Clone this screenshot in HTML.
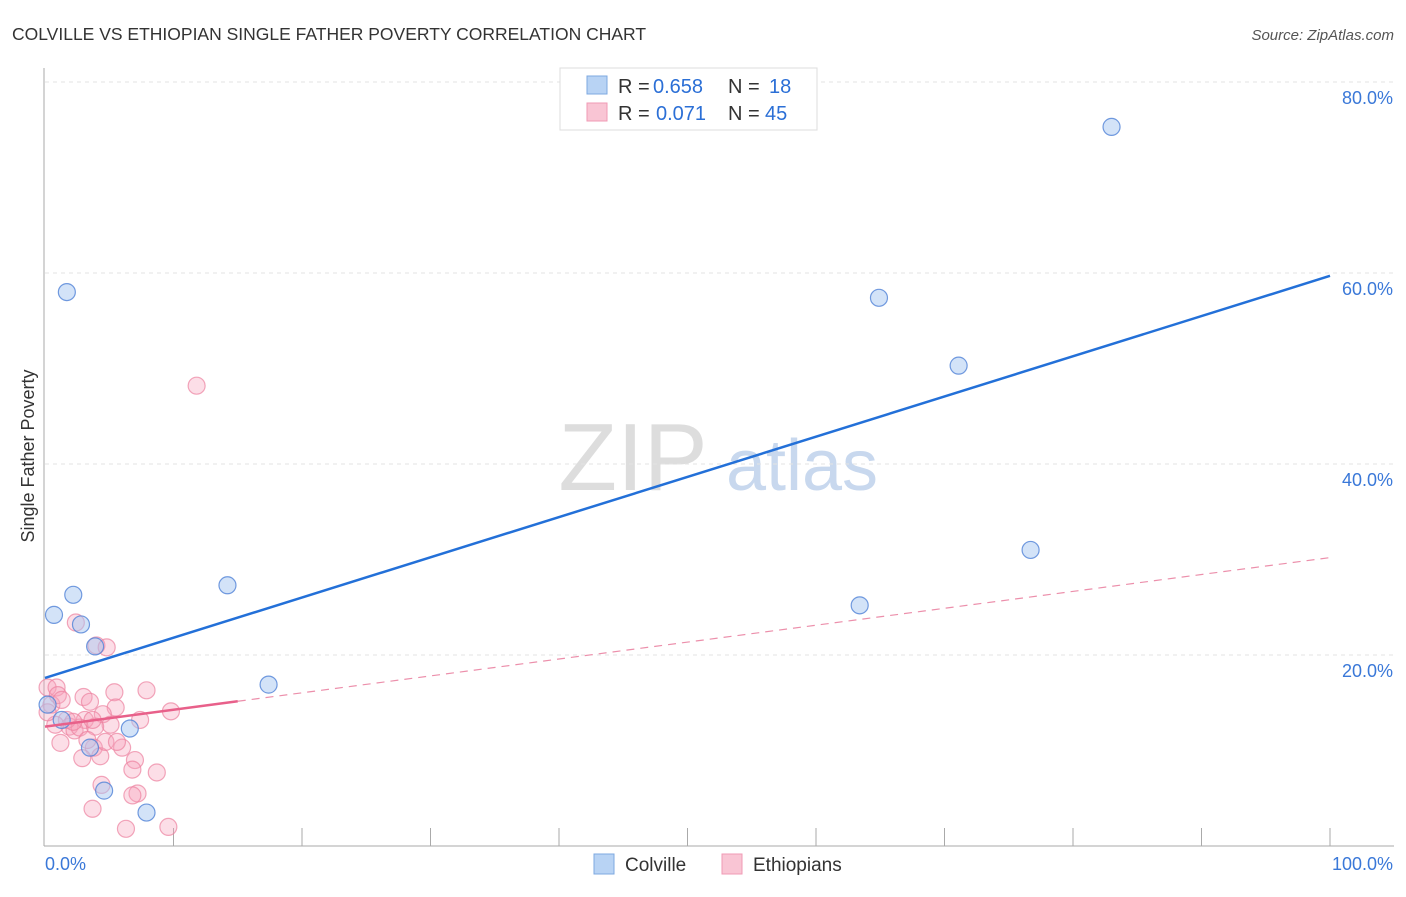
<!DOCTYPE html>
<html><head><meta charset="utf-8"><style>
body{margin:0;background:#fff;font-family:"Liberation Sans",sans-serif}
svg text{font-family:"Liberation Sans",sans-serif}
</style></head><body>
<svg id="c" width="1406" height="892" viewBox="0 0 1406 892">
<text x="12" y="40" font-size="17.5" fill="#333">COLVILLE VS ETHIOPIAN SINGLE FATHER POVERTY CORRELATION CHART</text>
<text x="1394" y="40" font-size="15" fill="#555" font-style="italic" text-anchor="end">Source: ZipAtlas.com</text>
<text x="34" y="456" font-size="18" fill="#333" text-anchor="middle" transform="rotate(-90 34 456)">Single Father Poverty</text>
<g><text x="633" y="490" font-size="96" font-family="Liberation Serif" fill="#ddd" text-anchor="middle">ZIP</text><text x="802" y="490" font-size="72" fill="#c8d8ee" text-anchor="middle">atlas</text></g>
<g id="grid"></g><g id="axes"></g><g id="marks"></g>
<g>
<rect x="560" y="68" width="257" height="62" fill="#fff" stroke="#ddd"/>
<rect x="587" y="76" width="20" height="18" fill="#b8d3f4" stroke="#7ea8e0"/>
<rect x="587" y="103" width="20" height="18" fill="#f9c5d4" stroke="#f09ab5"/>
<text x="618" y="93" font-size="20" fill="#333">R =</text><text x="653" y="93" font-size="20" fill="#2b6fd6">0.658</text>
<text x="728" y="93" font-size="20" fill="#333">N =</text><text x="769" y="93" font-size="20" fill="#2b6fd6">18</text>
<text x="618" y="120" font-size="20" fill="#333">R =</text><text x="656" y="120" font-size="20" fill="#2b6fd6">0.071</text>
<text x="728" y="120" font-size="20" fill="#333">N =</text><text x="765" y="120" font-size="20" fill="#2b6fd6">45</text>
</g>
<g>
<rect x="594" y="854" width="20" height="20" fill="#b8d3f4" stroke="#7ea8e0"/><text x="625" y="871" font-size="19" fill="#333">Colville</text>
<rect x="722" y="854" width="20" height="20" fill="#f9c5d4" stroke="#f09ab5"/><text x="753" y="871" font-size="19" fill="#333">Ethiopians</text>
</g>
</svg>
<script>
const yTicks=[20,40,60,80];
const yTickLabels=["20.0%","40.0%","60.0%","80.0%"];
const colvilleX=[1.7,0.7,2.2,2.8,3.9,6.6,4.6,7.9,14.2,17.4,3.5,1.3,83.0,64.9,71.1,76.7,63.4,0.2];
const colvilleY=[58.0,24.2,26.3,23.2,20.9,12.3,5.8,3.5,27.3,16.9,10.3,13.2,75.3,57.4,50.3,31.0,25.2,14.8];
const ethX=[11.8,2.4,4.0,4.8,0.2,0.9,0.5,1.0,3.0,3.5,5.4,7.9,5.5,4.5,5.1,3.1,1.9,2.3,2.7,3.9,7.4,9.8,1.2,6.0,3.8,4.3,2.9,7.0,6.8,8.7,4.4,7.2,3.7,6.3,9.6,1.7,0.8,3.3,4.7,3.7,0.2,1.3,5.6,6.8,2.2];
const ethY=[48.2,23.4,21.0,20.8,16.6,16.6,14.8,15.8,15.6,15.1,16.1,16.3,14.5,13.8,12.7,13.2,12.5,12.1,12.4,12.5,13.2,14.1,10.8,10.3,10.3,9.4,9.2,9.0,8.0,7.7,6.4,5.5,3.9,1.8,2.0,13.2,12.7,11.1,10.9,13.2,14.0,15.3,10.9,5.3,13.0];
const colvilleTrend=[17.6,59.7];
const ethTrend=[12.5,30.2];
const ethSolidEnd=15;
const X0=45,X1=1330,Y0=846,YS=9.55;
const sx=v=>X0+(X1-X0)*v/100, sy=v=>Y0-v*YS;
const NS="http://www.w3.org/2000/svg";
function mk(p,t,a){const e=document.createElementNS(NS,t);for(const k in a)e.setAttribute(k,a[k]);p.appendChild(e);return e;}
const grid=document.getElementById('grid'),axes=document.getElementById('axes'),marks=document.getElementById('marks');
yTicks.forEach((t,i)=>{
 const l=mk(grid,'line',{x1:45,x2:1394,y1:sy(t),y2:sy(t),stroke:'#e3e3e3','stroke-dasharray':'4 4'});
 
 
 const tx=mk(axes,'text',{x:1393,y:sy(t)+22,'font-size':18,fill:'#3a78d8','text-anchor':'end'});
 tx.textContent=yTickLabels[i];
 
 
});
mk(axes,'line',{x1:44,x2:44,y1:68,y2:846,stroke:'#aaa'});
mk(axes,'line',{x1:44,x2:1394,y1:846,y2:846,stroke:'#aaa'});
for(let i=1;i<=10;i++){const l=mk(axes,'line',{x1:sx(i*10),x2:sx(i*10),y1:828,y2:846,stroke:'#aaa'});
 
 }
let t=mk(axes,'text',{x:45,y:870,'font-size':18,fill:'#3a78d8'});t.textContent='0.0%';


t=mk(axes,'text',{x:1393,y:870,'font-size':18,fill:'#3a78d8','text-anchor':'end'});t.textContent='100.0%';


ethX.forEach((x,i)=>{const c=mk(marks,'circle',{cx:sx(x),cy:sy(ethY[i]),r:8.5,fill:'rgba(246,160,185,0.35)',stroke:'rgba(236,130,160,0.7)','stroke-width':1.2});
 
 });
colvilleX.forEach((x,i)=>{const c=mk(marks,'circle',{cx:sx(x),cy:sy(colvilleY[i]),r:8.5,fill:'rgba(168,200,242,0.5)',stroke:'rgba(80,130,215,0.8)','stroke-width':1.2});
 
 });
const ey=x=>ethTrend[0]+(ethTrend[1]-ethTrend[0])*x/100;
let l=mk(marks,'line',{x1:sx(ethSolidEnd),y1:sy(ey(ethSolidEnd)),x2:sx(100),y2:sy(ethTrend[1]),stroke:'#ec8fab','stroke-width':1.2,'stroke-dasharray':'8 6'});


l=mk(marks,'line',{x1:sx(0),y1:sy(ethTrend[0]),x2:sx(ethSolidEnd),y2:sy(ey(ethSolidEnd)),stroke:'#e8608a','stroke-width':2.5});


l=mk(marks,'line',{x1:sx(0),y1:sy(colvilleTrend[0]),x2:sx(100),y2:sy(colvilleTrend[1]),stroke:'#2370d8','stroke-width':2.5});


</script>
</body></html>
